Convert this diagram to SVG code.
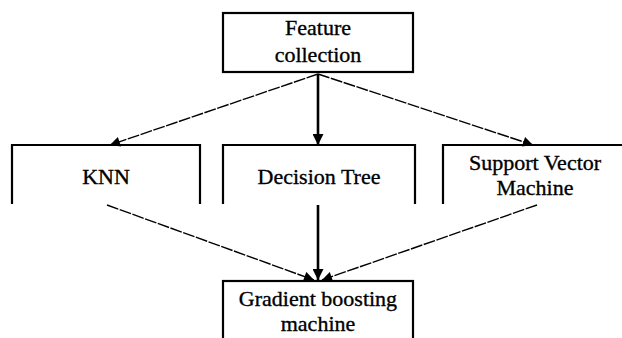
<svg xmlns="http://www.w3.org/2000/svg" width="622" height="338" viewBox="0 0 622 338">
<style>
.box{fill:#fff;stroke:#000;stroke-width:2.2}
.open{fill:none;stroke:#000;stroke-width:2.2}
.dash{fill:none;stroke:#000;stroke-width:1.4;stroke-dasharray:12 1.5}
.solid{fill:none;stroke:#000;stroke-width:2.6}
</style>
<defs>
<marker id="ah" viewBox="0 0 10 10" refX="10" refY="5" markerWidth="12" markerHeight="10" markerUnits="userSpaceOnUse" orient="auto">
<path d="M0,0 L10,5 L0,10 Z" fill="#000"/>
</marker>
<marker id="ahs" viewBox="0 0 10 10" refX="10" refY="5" markerWidth="12" markerHeight="11" markerUnits="userSpaceOnUse" orient="auto">
<path d="M0,0 L10,5 L0,10 Z" fill="#000"/>
</marker>
</defs>
<rect width="622" height="338" fill="#fff"/>
<g id="connectors">
<line class="dash" x1="318" y1="74" x2="110" y2="145" marker-end="url(#ah)"/>
<line class="solid" x1="318" y1="74" x2="318" y2="145" marker-end="url(#ahs)"/>
<line class="dash" x1="318" y1="74" x2="533" y2="145" marker-end="url(#ah)"/>
<line class="dash" x1="107" y1="205" x2="314" y2="280" marker-end="url(#ah)"/>
<line class="solid" x1="318" y1="205" x2="318" y2="280" marker-end="url(#ahs)"/>
<line class="dash" x1="537" y1="205" x2="322" y2="280" marker-end="url(#ah)"/>
</g>
<g font-family="Liberation Serif, Times New Roman, serif" font-size="22" fill="#000" stroke="#000" stroke-width="0.35" text-anchor="middle">
<g id="feature">
<rect class="box" x="223" y="13" width="190" height="59"/>
<text x="318" y="35">Feature</text>
<text x="318" y="62">collection</text>
</g>
<g id="knn">
<path class="open" d="M12,204 V145 H200 V204"/>
<text x="106" y="184">KNN</text>
</g>
<g id="dtree">
<path class="open" d="M223,204 V145 H415 V204"/>
<text x="319" y="184">Decision Tree</text>
</g>
<g id="svm">
<path class="open" d="M443,204 V145 H630"/>
<text x="535" y="170">Support Vector</text>
<text x="535" y="195">Machine</text>
</g>
<g id="gbm">
<rect class="box" x="223" y="281" width="190" height="70"/>
<text x="318" y="306">Gradient boosting</text>
<text x="318" y="331">machine</text>
</g>
</g>
</svg>
